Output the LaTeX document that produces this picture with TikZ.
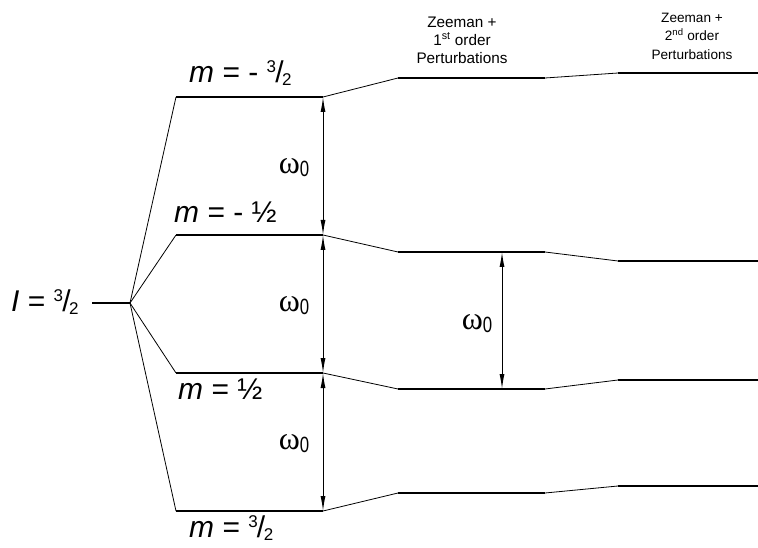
\documentclass[tikz,border=0pt]{standalone}
\usepackage{fontspec}
\setmainfont{Liberation Sans}
\newfontfamily\greekfont{Liberation Serif}
\usetikzlibrary{arrows.meta}
\newcommand{\spinfrac}[2]{\raisebox{0.36em}{\fontsize{17}{17}\selectfont #1}\kern-0.03em/\kern-0.05em\raisebox{-0.1em}{\fontsize{17}{17}\selectfont #2}}
\newcommand{\omegazero}{{\greekfont\fontsize{32}{32}\selectfont\symbol{"03C9}}\raisebox{-0.32em}{\fontsize{21}{21}\selectfont\scalebox{0.8}[1.05]{0}}}
\tikzset{
  levelline/.style={line width=1.6pt},
  splitline/.style={line width=0.8pt},
  gaparrow/.style={{Latex[length=15pt,width=5pt]}-{Latex[length=15pt,width=5pt]},line width=1pt},
  statelabel/.style={font=\fontsize{30}{32}\selectfont,inner sep=0pt,anchor=west},
  headlabel/.style={align=center,inner sep=0pt},
  gaplabel/.style={inner sep=0pt}
}
\begin{document}
\begin{tikzpicture}[x=1pt,y=-1pt]
  \useasboundingbox (0,0) rectangle (758,548);
  % spin level and the zeeman fan
  \coordinate (i0) at (92,303);
  \coordinate (i1) at (130,303);
  \foreach \n/\y in {a/97,b/235,c/373,d/511}{
    \coordinate (\n0) at (176,\y);
    \coordinate (\n1) at (323,\y);
  }
  \node[statelabel] (ilabel) at (11,302) {\textit{I} = \spinfrac{3}{2}};
  \draw[levelline] (i0) -- (i1);
  \foreach \n in {a,b,c,d}
    \draw[splitline] (i1) -- (\n0);
  % first order shifts
  \foreach \n/\y/\z in {a/78/73,b/252/261,c/389/380,d/493/486}{
    \coordinate (\n2) at (398,\y);
    \coordinate (\n3) at (545,\y);
    \coordinate (\n4) at (618,\z);
    \coordinate (\n5) at (758,\z);
    \draw[levelline] (\n0) -- (\n1);
    \draw[splitline] (\n1) -- (\n2);
    \draw[levelline] (\n2) -- (\n3);
    \draw[splitline] (\n3) -- (\n4);
    \draw[levelline] (\n4) -- (\n5);
  }
  \node[statelabel] (ma) at (189,73) {\textit{m} = - \spinfrac{3}{2}};
  \node[statelabel] (mb) at (174,212) {\textit{m} = - ½};
  \node[statelabel] (mc) at (178,389) {\textit{m} = ½};
  \node[statelabel] (md) at (189,528) {\textit{m} = \spinfrac{3}{2}};
  % headings
  \node[headlabel,font=\fontsize{15.3}{18}\selectfont] (first) at (462,40) {Zeeman +\\1\textsuperscript{st} order\\Perturbations};
  \node[headlabel,font=\fontsize{13.6}{18.5}\selectfont] (second) at (692,36) {Zeeman +\\2\textsuperscript{nd} order\\Perturbations};
  % splittings
  \draw[gaparrow] (a1) -- (b1);
  \draw[gaparrow] (b1) -- (c1);
  \draw[gaparrow] (c1) -- (d1);
  \coordinate (mid0) at (502,252);
  \coordinate (mid1) at (502,389);
  \draw[gaparrow] (mid0) -- (mid1);
  \node[gaplabel] (w1) at (294,168) {\omegazero};
  \node[gaplabel] (w2) at (294,306) {\omegazero};
  \node[gaplabel] (w3) at (294,444) {\omegazero};
  \node[gaplabel] (w4) at (477,324) {\omegazero};
\end{tikzpicture}
\end{document}
